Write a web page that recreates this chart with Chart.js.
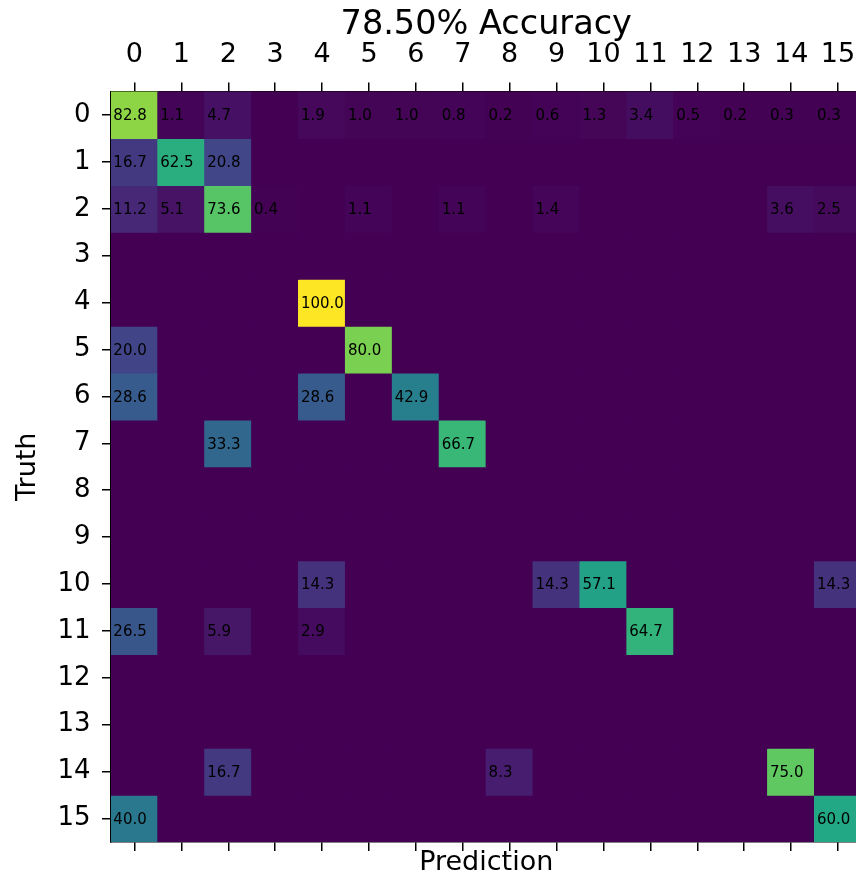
<!DOCTYPE html>
<html>
<head>
<meta charset="utf-8">
<script src="https://cdn.jsdelivr.net/npm/chart.js@4/dist/chart.umd.min.js"></script>
<style>
  html, body { margin: 0; padding: 0; background: #fff; overflow: hidden; width: 856px; height: 878px; }
  canvas { display: block; }
</style>
</head>
<body>
<canvas id="c" width="880" height="878" style="width:880px;height:878px"></canvas>
<script>
const titleText = '78.50% Accuracy';
const xTitle = 'Prediction';
const yTitle = 'Truth';
const colLabels = ['0','1','2','3','4','5','6','7','8','9','10','11','12','13','14','15'];
const rowLabels = ['0','1','2','3','4','5','6','7','8','9','10','11','12','13','14','15'];

const row0  = [82.8, 1.1, 4.7, 0, 1.9, 1.0, 1.0, 0.8, 0.2, 0.6, 1.3, 3.4, 0.5, 0.2, 0.3, 0.3];
const row1  = [16.7, 62.5, 20.8, 0, 0, 0, 0, 0, 0, 0, 0, 0, 0, 0, 0, 0];
const row2  = [11.2, 5.1, 73.6, 0.4, 0, 1.1, 0, 1.1, 0, 1.4, 0, 0, 0, 0, 3.6, 2.5];
const row3  = [0, 0, 0, 0, 0, 0, 0, 0, 0, 0, 0, 0, 0, 0, 0, 0];
const row4  = [0, 0, 0, 0, 100.0, 0, 0, 0, 0, 0, 0, 0, 0, 0, 0, 0];
const row5  = [20.0, 0, 0, 0, 0, 80.0, 0, 0, 0, 0, 0, 0, 0, 0, 0, 0];
const row6  = [28.6, 0, 0, 0, 28.6, 0, 42.9, 0, 0, 0, 0, 0, 0, 0, 0, 0];
const row7  = [0, 0, 33.3, 0, 0, 0, 0, 66.7, 0, 0, 0, 0, 0, 0, 0, 0];
const row8  = [0, 0, 0, 0, 0, 0, 0, 0, 0, 0, 0, 0, 0, 0, 0, 0];
const row9  = [0, 0, 0, 0, 0, 0, 0, 0, 0, 0, 0, 0, 0, 0, 0, 0];
const row10 = [0, 0, 0, 0, 14.3, 0, 0, 0, 0, 14.3, 57.1, 0, 0, 0, 0, 14.3];
const row11 = [26.5, 0, 5.9, 0, 2.9, 0, 0, 0, 0, 0, 0, 64.7, 0, 0, 0, 0];
const row12 = [0, 0, 0, 0, 0, 0, 0, 0, 0, 0, 0, 0, 0, 0, 0, 0];
const row13 = [0, 0, 0, 0, 0, 0, 0, 0, 0, 0, 0, 0, 0, 0, 0, 0];
const row14 = [0, 0, 16.7, 0, 0, 0, 0, 0, 8.3, 0, 0, 0, 0, 0, 75.0, 0];
const row15 = [40.0, 0, 0, 0, 0, 0, 0, 0, 0, 0, 0, 0, 0, 0, 0, 60.0];
const matrix = [row0,row1,row2,row3,row4,row5,row6,row7,row8,row9,row10,row11,row12,row13,row14,row15];

// viridis colormap stops
const viridis = ['#440154','#482475','#414487','#355f8d','#2a788e','#21918c','#22a884','#44bf70','#7ad151','#bddf26','#fde725'];
function hex2rgb(h){ return [parseInt(h.slice(1,3),16),parseInt(h.slice(3,5),16),parseInt(h.slice(5,7),16)]; }
function cmap(t){
  t = Math.max(0, Math.min(1, t));
  const p = t * (viridis.length - 1);
  const i = Math.min(Math.floor(p), viridis.length - 2);
  const f = p - i;
  const a = hex2rgb(viridis[i]), b = hex2rgb(viridis[i+1]);
  const c = a.map((v,k)=>Math.round(v + (b[k]-v)*f));
  return `rgb(${c[0]},${c[1]},${c[2]})`;
}
const vmax = Math.max(...matrix.flat());

const FONT = 'DejaVu Sans';
const datasets = matrix.map((row, i) => ({
  label: rowLabels[i],
  data: row.map(() => [i - 0.5, i + 0.5]),
  backgroundColor: row.map(v => cmap(v / vmax)),
  borderWidth: 0,
  borderSkipped: false,
  inflateAmount: 0.6,
  barPercentage: 1,
  categoryPercentage: 1,
  grouped: false,
  xAxisID: 'x'
}));

const cellText = {
  id: 'cellText',
  afterDatasetsDraw(chart) {
    const ctx = chart.ctx;
    const xs = chart.scales.x, ys = chart.scales.y;
    const cw = Math.abs(xs.getPixelForValue(1) - xs.getPixelForValue(0));
    ctx.save();
    ctx.font = `15px "${FONT}"`;
    ctx.fillStyle = '#000';
    ctx.textAlign = 'left';
    ctx.textBaseline = 'middle';
    matrix.forEach((row, i) => {
      row.forEach((v, j) => {
        if (v > 0) {
          const x = xs.getPixelForValue(j) - cw / 2 + cw * 0.05;
          const y = ys.getPixelForValue(i) + 1.5;
          ctx.fillText(v.toFixed(1), x, y);
        }
      });
    });
    ctx.restore();
  }
};

new Chart(document.getElementById('c'), {
  type: 'bar',
  data: { labels: colLabels, datasets },
  plugins: [cellText],
  options: {
    responsive: false,
    animation: false,
    devicePixelRatio: 1,
    layout: { padding: { left: 0, right: 18.5, top: 0, bottom: 0 } },
    plugins: { legend: { display: false }, tooltip: { enabled: false }, title: { display: false } },
    scales: {
      x: {
        type: 'category',
        position: 'top',
        offset: true,
        z: 1,
        grid: { display: true, drawOnChartArea: false, drawTicks: true, tickLength: 9, color: '#000', lineWidth: 1.5, offset: false },
        border: { display: true, color: '#000', width: 1.5 },
        ticks: { color: '#000', font: { family: FONT, size: 27 }, padding: 11, maxRotation: 0, autoSkip: false },
        title: { display: true, text: titleText, color: '#000', font: { family: FONT, size: 33.5 }, padding: { top: 5, bottom: 0 } },
        afterFit(s) { s.height = 91.5; }
      },
      x2: {
        type: 'category',
        position: 'bottom',
        offset: true,
        z: 1,
        grid: { display: true, drawOnChartArea: false, drawTicks: true, tickLength: 9, color: '#000', lineWidth: 1.5, offset: false },
        border: { display: true, color: '#000', width: 1.5 },
        ticks: { display: false },
        title: { display: true, text: xTitle, color: '#000', font: { family: FONT, size: 27, lineHeight: 1.1 }, padding: { top: 0, bottom: 0 } },
        afterFit(s) { s.height = 36; }
      },
      y: {
        type: 'linear',
        position: 'left',
        reverse: true,
        min: -0.5,
        max: 15.5,
        z: 1,
        afterBuildTicks(s) { s.ticks = rowLabels.map((l, i) => ({ value: i })); },
        grid: { display: true, drawOnChartArea: false, drawTicks: true, tickLength: 9, color: '#000', lineWidth: 1.5 },
        border: { display: true, color: '#000', width: 1.5 },
        ticks: { color: '#000', font: { family: FONT, size: 26 }, padding: 11.5, autoSkip: false, callback: (v) => rowLabels[v] },
        title: { display: true, text: yTitle, color: '#000', font: { family: FONT, size: 27 }, padding: { top: 12, bottom: 0 } },
        afterFit(s) { s.width = 111; }
      }
    }
  }
});
</script>
</body>
</html>
